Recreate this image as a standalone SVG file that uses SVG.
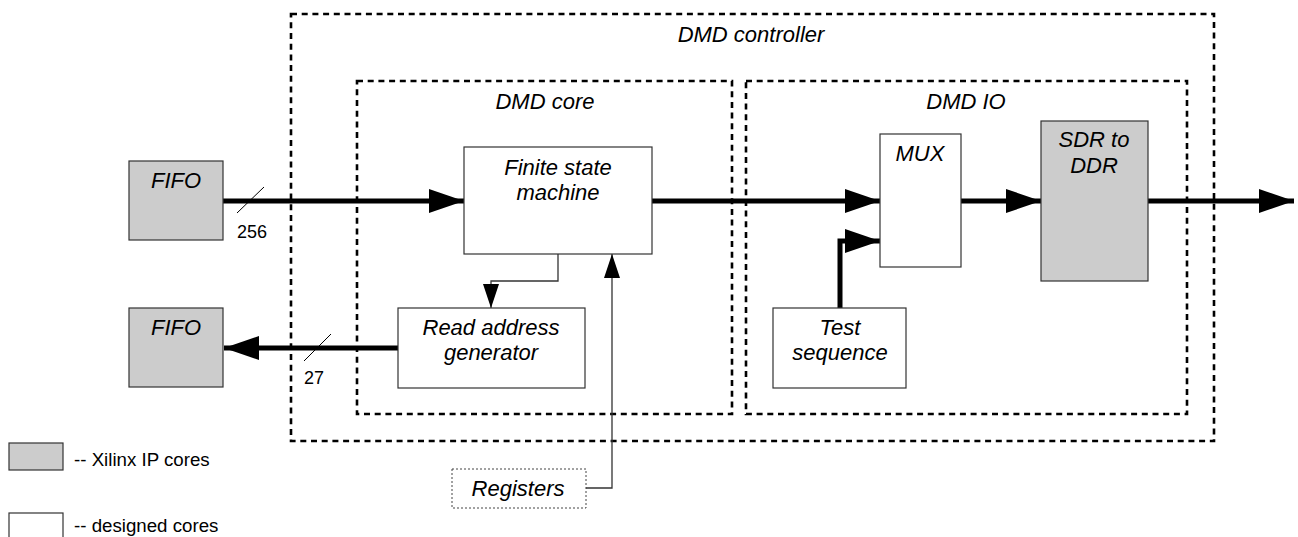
<svg xmlns="http://www.w3.org/2000/svg" width="1298" height="537" viewBox="0 0 1298 537">
  <style>
    .lbl { font-family: "Liberation Sans", Arial, sans-serif; font-style: italic; font-size: 22px; fill: #000; text-anchor: middle; }
    .num { font-family: "Liberation Sans", Arial, sans-serif; font-size: 18px; fill: #000; }
    .leg { font-family: "Liberation Sans", Arial, sans-serif; font-size: 18.7px; fill: #000; }
    .ip { fill: #cccccc; stroke: #333; stroke-width: 1.2; }
    .own { fill: #fff; stroke: #333; stroke-width: 1.2; }
    .group { fill: none; stroke: #000; stroke-width: 2.6; stroke-dasharray: 6 4.7; }
    .bus { fill: none; stroke: #000; stroke-width: 5; }
    .sig { fill: none; stroke: #333; stroke-width: 1.3; }
    .tick { stroke: #000; stroke-width: 1; }
  </style>
  <defs>
    <marker id="bigHead" markerUnits="userSpaceOnUse" markerWidth="36" markerHeight="24" refX="35" refY="12" orient="auto">
      <path d="M0,0 L35,12 L0,24 Z" fill="#000"/>
    </marker>
    <marker id="smallHead" markerUnits="userSpaceOnUse" markerWidth="25" markerHeight="16" refX="24" refY="8" orient="auto">
      <path d="M0,0 L24,8 L0,16 Z" fill="#000"/>
    </marker>
  </defs>

  <rect width="1298" height="537" fill="#fff"/>

  <!-- grouping frames -->
  <g id="dmd-controller">
    <rect class="group" x="291" y="14" width="923" height="427"/>
    <text class="lbl" x="751" y="42">DMD controller</text>
  </g>
  <g id="dmd-core">
    <rect class="group" x="357" y="81" width="375" height="333"/>
    <text class="lbl" x="545" y="109">DMD core</text>
  </g>
  <g id="dmd-io">
    <rect class="group" x="746" y="81" width="441" height="333"/>
    <text class="lbl" x="966" y="109">DMD IO</text>
  </g>

  <!-- connectors -->
  <g id="connectors">
    <line class="bus" x1="223" y1="201" x2="464" y2="201" marker-end="url(#bigHead)"/>
    <line class="tick" x1="237" y1="213" x2="264" y2="187"/>
    <text class="num" x="237" y="238">256</text>

    <line class="bus" x1="398" y1="348" x2="224" y2="348" marker-end="url(#bigHead)"/>
    <line class="tick" x1="304" y1="361" x2="331" y2="334"/>
    <text class="num" x="304" y="384">27</text>

    <line class="bus" x1="652" y1="201" x2="880" y2="201" marker-end="url(#bigHead)"/>
    <line class="bus" x1="961" y1="201" x2="1041" y2="201" marker-end="url(#bigHead)"/>
    <line class="bus" x1="1148" y1="201" x2="1294" y2="201" marker-end="url(#bigHead)"/>
    <path class="bus" d="M840,308 V241 H880" marker-end="url(#bigHead)"/>

    <path class="sig" d="M558,254 V281 H491 V308" marker-end="url(#smallHead)"/>
    <path class="sig" d="M586,488 H612 V254" marker-end="url(#smallHead)"/>
  </g>

  <!-- blocks -->
  <g id="fifo-in">
    <rect class="ip" x="129" y="161" width="94" height="79"/>
    <text class="lbl" x="176" y="188">FIFO</text>
  </g>
  <g id="fifo-out">
    <rect class="ip" x="129" y="308" width="94" height="79"/>
    <text class="lbl" x="176" y="335">FIFO</text>
  </g>
  <g id="fsm">
    <rect class="own" x="464" y="147" width="188" height="107"/>
    <text class="lbl" x="558" y="175">Finite state</text>
    <text class="lbl" x="558" y="200">machine</text>
  </g>
  <g id="read-address-generator">
    <rect class="own" x="398" y="308" width="187" height="80"/>
    <text class="lbl" x="491" y="335">Read address</text>
    <text class="lbl" x="491" y="360">generator</text>
  </g>
  <g id="mux">
    <rect class="own" x="880" y="134" width="81" height="133"/>
    <text class="lbl" x="920" y="161">MUX</text>
  </g>
  <g id="sdr-to-ddr">
    <rect class="ip" x="1041" y="121" width="107" height="160"/>
    <text class="lbl" x="1094" y="147">SDR to</text>
    <text class="lbl" x="1094" y="173">DDR</text>
  </g>
  <g id="test-sequence">
    <rect class="own" x="773" y="308" width="133" height="80"/>
    <text class="lbl" x="840" y="335">Test</text>
    <text class="lbl" x="840" y="360">sequence</text>
  </g>
  <g id="registers">
    <rect x="452" y="469" width="134" height="39" fill="#fff" stroke="#444" stroke-width="1" stroke-dasharray="2 2"/>
    <text class="lbl" x="518" y="496">Registers</text>
  </g>

  <!-- legend -->
  <g id="legend">
    <rect class="ip" x="9" y="443" width="54" height="27"/>
    <text class="leg" x="74" y="466">-- Xilinx IP cores</text>
    <rect class="own" x="9" y="513" width="54" height="30"/>
    <text class="leg" x="74" y="532">-- designed cores</text>
  </g>
</svg>
